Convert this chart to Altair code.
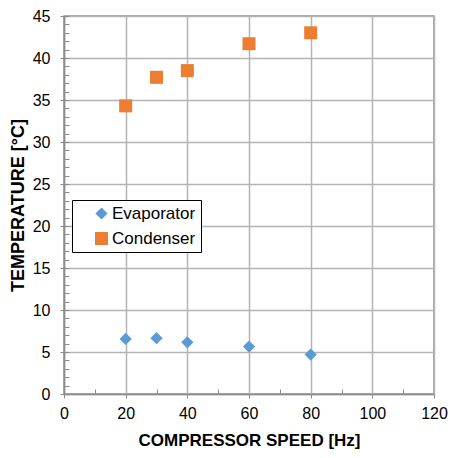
import altair as alt
import pandas as pd

speeds = [20, 30, 40, 60, 80]
evaporator = [6.55, 6.65, 6.15, 5.65, 4.7]
condenser = [34.3, 37.7, 38.5, 41.7, 43.0]
series = ["Evaporator", "Condenser"]
colors = ["#5B9BD5", "#ED7D31"]
shapes = ["diamond", "square"]
x_major = [0, 20, 40, 60, 80, 100, 120]
x_minor = [10, 30, 50, 70, 90, 110]
y_major = list(range(0, 46, 5))
y_minor = list(range(0, 46, 1))

rows = []
for s, e, c in zip(speeds, evaporator, condenser):
    rows.append({"speed": s, "temp": e, "series": "Evaporator"})
    rows.append({"speed": s, "temp": c, "series": "Condenser"})
df = pd.DataFrame(rows)

FONT = "Liberation Sans"
AX = "#8c8c8c"
GRID = "#b4b4b4"
xscale = alt.Scale(domain=[0, 120], nice=False, zero=True)
yscale = alt.Scale(domain=[0, 45], nice=False, zero=True)

main = alt.Chart(df).mark_point(filled=True, opacity=1, strokeWidth=0).encode(
    x=alt.X("speed:Q", scale=xscale,
            axis=alt.Axis(values=x_major, title="COMPRESSOR SPEED [Hz]", grid=True,
                          gridColor=GRID, gridWidth=1.5, domainColor=AX, domainWidth=1.5,
                          tickColor=AX, tickSize=4, labelFontSize=16, labelFlush=False,
                          labelFont=FONT, labelColor="#000", labelPadding=7,
                          titleFont=FONT, titleFontSize=17, titleFontWeight="bold",
                          titleColor="#000", titlePadding=11)),
    y=alt.Y("temp:Q", scale=yscale,
            axis=alt.Axis(values=y_major, title="TEMPERATURE [°C]", grid=True,
                          gridColor=GRID, gridWidth=1.5, domainColor=AX, domainWidth=1.5,
                          tickColor=AX, tickSize=4, labelFontSize=16, labelFlush=False,
                          labelFont=FONT, labelColor="#000", labelPadding=10,
                          titleFont=FONT, titleFontSize=18, titleFontWeight="bold",
                          titleColor="#000", titlePadding=5)),
    color=alt.Color("series:N", scale=alt.Scale(domain=series, range=colors),
                    legend=alt.Legend(title=None, orient="none", legendX=8, legendY=184,
                                      fillColor="white", strokeColor="#000",
                                      padding=5, symbolOffset=16, labelOffset=2,
                                      labelFont=FONT, labelFontSize=17,
                                      labelExpr="datum.label + '     '",
                                      labelColor="#000", rowPadding=7, labelLimit=300)),
    shape=alt.Shape("series:N", scale=alt.Scale(domain=series, range=shapes), legend=None),
    size=alt.Size("series:N", scale=alt.Scale(domain=series, range=[150, 169]), legend=None),
)

minor = alt.Chart(df).mark_point(opacity=0).encode(
    x=alt.X("speed:Q", scale=xscale,
            axis=alt.Axis(values=x_minor, labels=False, title=None, grid=False, domain=False,
                          tickColor=AX, tickSize=5, offset=-5, orient="bottom")),
    y=alt.Y("temp:Q", scale=yscale,
            axis=alt.Axis(values=y_minor, labels=False, title=None, grid=False, domain=False,
                          tickColor=AX, tickSize=5, offset=-5, orient="left")),
)

chart = alt.layer(main, minor).resolve_axis(x="independent", y="independent").properties(
    width=370, height=378,
    autosize=alt.AutoSizeParams(type="none"),
    padding={"left": 56, "top": 8, "right": 14, "bottom": 56},
    background="white",
).configure_view(stroke=AX, strokeWidth=1.5)

chart.save("out.html", embed_options={"renderer": "svg", "actions": False})
